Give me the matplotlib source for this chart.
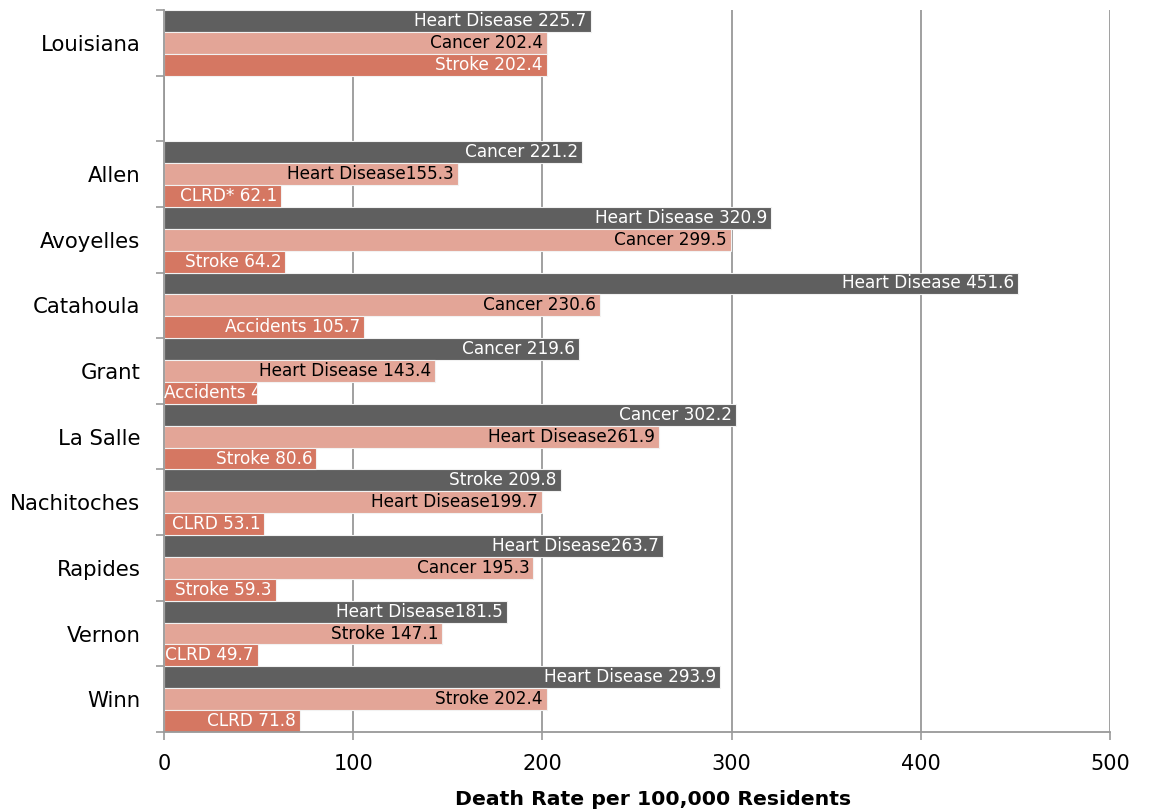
import numpy as np
import matplotlib.pyplot as plt

# Data (top to bottom, blank row separates state from parishes)
areas = ['Louisiana', '', 'Allen', 'Avoyelles', 'Catahoula', 'Grant', 'La Salle',
         'Nachitoches', 'Rapides', 'Vernon', 'Winn']

first_vals = [225.7, np.nan, 221.2, 320.9, 451.6, 219.6, 302.2, 209.8, 263.7, 181.5, 293.9]
first_labels = ['Heart Disease 225.7', '', 'Cancer 221.2', 'Heart Disease 320.9',
                'Heart Disease 451.6', 'Cancer 219.6', 'Cancer 302.2', 'Stroke 209.8',
                'Heart Disease263.7', 'Heart Disease181.5', 'Heart Disease 293.9']

second_vals = [202.4, np.nan, 155.3, 299.5, 230.6, 143.4, 261.9, 199.7, 195.3, 147.1, 202.4]
second_labels = ['Cancer 202.4', '', 'Heart Disease155.3', 'Cancer 299.5', 'Cancer 230.6',
                 'Heart Disease 143.4', 'Heart Disease261.9', 'Heart Disease199.7',
                 'Cancer 195.3', 'Stroke 147.1', 'Stroke 202.4']

third_vals = [202.4, np.nan, 62.1, 64.2, 105.7, 49.0, 80.6, 53.1, 59.3, 49.7, 71.8]
third_labels = ['Stroke 202.4', '', 'CLRD* 62.1', 'Stroke 64.2', 'Accidents 105.7',
                'Accidents 49.0', 'Stroke 80.6', 'CLRD 53.1', 'Stroke 59.3', 'CLRD 49.7',
                'CLRD 71.8']

xticks = [0, 100, 200, 300, 400, 500]

colors = ['#5f5f5f', '#e3a597', '#d57762']
text_colors = ['white', 'black', 'white']

plt.rcParams['font.family'] = ['DejaVu Sans']

fig = plt.figure(figsize=(11.49, 8.11), dpi=100)
ax = fig.add_axes([0.1427, 0.0974, 0.8233, 0.8903])

y = np.arange(len(areas))
h = 1 / 3
series = [(first_vals, first_labels), (second_vals, second_labels), (third_vals, third_labels)]

all_bars = []
for k, (vals, labs) in enumerate(series):
    bars = ax.barh(y + (k - 1) * h, vals, height=h, color=colors[k],
                   edgecolor='#f2f2f2', linewidth=0.8, zorder=2)
    all_bars.append((bars, labs, text_colors[k]))

ax.set_xlim(0, 500)
ax.set_ylim(len(areas) - 0.5, -0.5)
ax.set_xticks(xticks)
ax.set_xticklabels([str(t) for t in xticks], fontsize=15)
ax.set_yticks(y)
ax.set_yticklabels(areas, fontsize=15.3)
ax.set_yticks(np.arange(-0.5, len(areas), 1), minor=True)
ax.tick_params(axis='y', which='major', length=0, pad=17)
ax.tick_params(axis='y', which='minor', length=6, width=1.2, color='#999999')
ax.tick_params(axis='x', length=6, width=1.2, color='#999999', pad=10)

ax.grid(axis='x', color='#999999', linewidth=1.3, zorder=0)
ax.set_axisbelow(True)
for s in ['top', 'right']:
    ax.spines[s].set_visible(False)
for s in ['left', 'bottom']:
    ax.spines[s].set_color('#999999')
    ax.spines[s].set_linewidth(1.3)

ax.set_xlabel('Death Rate per 100,000 Residents', fontsize=14.7, fontweight='bold')
ax.xaxis.set_label_coords(0.517, -0.08)

# data labels inside the bar ends
fig.canvas.draw()
renderer = fig.canvas.get_renderer()
for bars, labs, tc in all_bars:
    for bar, lab in zip(bars, labs):
        w = bar.get_width()
        if not lab or np.isnan(w):
            continue
        yc = bar.get_y() + bar.get_height() / 2
        t = ax.annotate(lab, (w, yc), xytext=(-3, 0), textcoords='offset points',
                        ha='right', va='center', fontsize=12.2, color=tc, zorder=3)
        bb = t.get_window_extent(renderer)
        x0 = ax.transData.transform((0, 0))[0]
        if bb.x0 < x0:
            t.remove()
            t = ax.annotate(lab, (0, yc), xytext=(0, 0), textcoords='offset points',
                            ha='left', va='center', fontsize=12.2, color=tc, zorder=3)
            t.set_clip_path(bar)

fig.savefig('out.png', dpi=100)
